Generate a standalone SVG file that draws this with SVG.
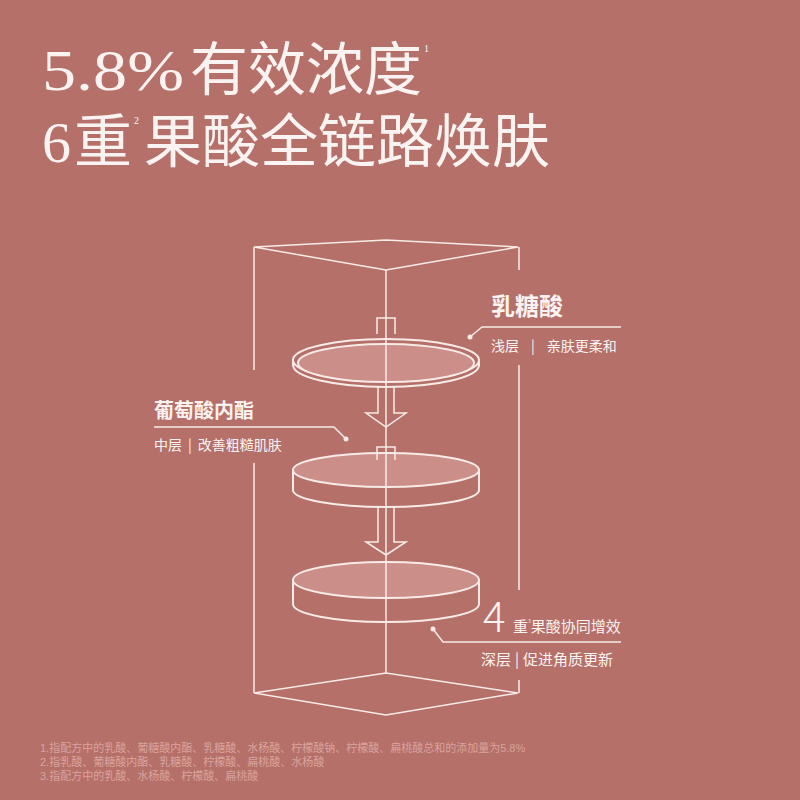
<svg xmlns="http://www.w3.org/2000/svg" width="800" height="800" viewBox="0 0 800 800">
<style>
.ln{fill:none;stroke:#f7ebe8;stroke-width:1.5}
.disc{fill:#cc8e88;stroke:#f7ebe8;stroke-width:2}
.side{fill:#b5706a;stroke:#f7ebe8;stroke-width:2}
.ar{fill:#b5706a;stroke:#f7ebe8;stroke-width:1.5}
.t{font-family:"Liberation Serif","Noto Sans CJK SC",serif;fill:#fbf3f1}
.s{font-family:"Noto Sans CJK SC",sans-serif;fill:#fbf3f1}
.fn{font-family:"Liberation Sans","Noto Sans CJK SC",sans-serif;fill:#d9a39d;font-size:11px}
.dot{fill:#f7ebe8}
</style>
<rect width="800" height="800" fill="#b5706a"/>
<g id="title">
<text class="t" x="42" y="90" font-size="58" textLength="142" lengthAdjust="spacingAndGlyphs">5.8%</text>
<text class="t" x="190" y="90" font-size="58">有效浓度</text>
<text class="t" x="424" y="52" font-size="10">1</text>
<text class="t" x="42" y="162" font-size="58">6</text>
<text class="t" x="74" y="162" font-size="58">重</text>
<text class="t" x="134" y="124" font-size="10">2</text>
<text class="t" x="144" y="162" font-size="58">果酸全链路焕肤</text>
</g>
<g id="connectors">
<path class="ln" d="M254,247 L386,240 L518,247 L386,270 Z"/>
<path class="ln" d="M254,693 L386,673 L518,693 L386,715 Z"/>
<path class="ln" d="M254,247 V370 M254,463 V693 M519,247 V270 M519,365 V590 M519,680 V693"/>
</g>
<g id="disc3">
<path class="side" d="M293,580 V604 A93,18 0 0 0 479,604 V580 Z"/>
<ellipse class="disc" cx="386" cy="580" rx="93" ry="18"/>
</g>
<g id="arrow2">
<path class="ar" d="M378,497 V542 H366 L386,555 L406,542 H394 V497"/>
</g>
<g id="disc2">
<path class="side" d="M293,470 V490 A93,17 0 0 0 479,490 V470 Z"/>
<ellipse class="disc" cx="386" cy="470" rx="93" ry="17"/>
<path class="ln" d="M377,460 V447 H395 V460"/>
</g>
<g id="arrow1">
<path class="ar" d="M378,368 V413 H366 L386,427 L406,413 H394 V368"/>
</g>
<g id="disc1">
<path class="side" d="M293,360 V365 A93,22 0 0 0 479,365 V360 Z"/>
<ellipse class="side" cx="386" cy="360" rx="93" ry="21"/>
<ellipse class="disc" cx="386" cy="363" rx="88" ry="19" stroke="none"/>
<path class="ln" d="M377,334 V318 H395 V334"/>
</g>
<line class="ln" x1="386" y1="270" x2="386" y2="673"/>
<g id="label-lactobionic">
<text class="s" x="491" y="315" font-size="24" font-weight="bold">乳糖酸</text>
<path class="ln" d="M470,337 L482,327 H621"/>
<circle class="dot" cx="470" cy="337" r="2.5"/>
<text class="s" x="491" y="351" font-size="14">浅层<tspan dx="12">|</tspan><tspan dx="12">亲肤更柔和</tspan></text>
</g>
<g id="label-gluconolactone">
<text class="s" x="154" y="418" font-size="20" font-weight="bold">葡萄酸内酯</text>
<path class="ln" d="M154,427 H334 L346,439"/>
<circle class="dot" cx="346" cy="439" r="2.5"/>
<text class="s" x="154" y="450" font-size="14">中层<tspan dx="6">|</tspan><tspan dx="6">改善粗糙肌肤</tspan></text>
</g>
<g id="label-4">
<text class="s" x="483" y="632" font-size="42" font-weight="300">4</text>
<text class="s" x="513" y="632" font-size="15">重<tspan font-size="5" dy="-9">3</tspan><tspan dy="9">果酸协同增效</tspan></text>
<path class="ln" d="M433,629 L443,642 H621"/>
<circle class="dot" cx="433" cy="629" r="2.5"/>
<text class="s" x="481" y="665" font-size="15">深层<tspan dx="4">|</tspan><tspan dx="4">促进角质更新</tspan></text>
</g>
<g id="footnotes">
<text class="fn" x="40" y="752">1.指配方中的乳酸、葡糖酸内酯、乳糖酸、水杨酸、柠檬酸钠、柠檬酸、扁桃酸总和的添加量为5.8%</text>
<text class="fn" x="40" y="766">2.指乳酸、葡糖酸内酯、乳糖酸、柠檬酸、扁桃酸、水杨酸</text>
<text class="fn" x="40" y="780">3.指配方中的乳酸、水杨酸、柠檬酸、扁桃酸</text>
</g>
</svg>
